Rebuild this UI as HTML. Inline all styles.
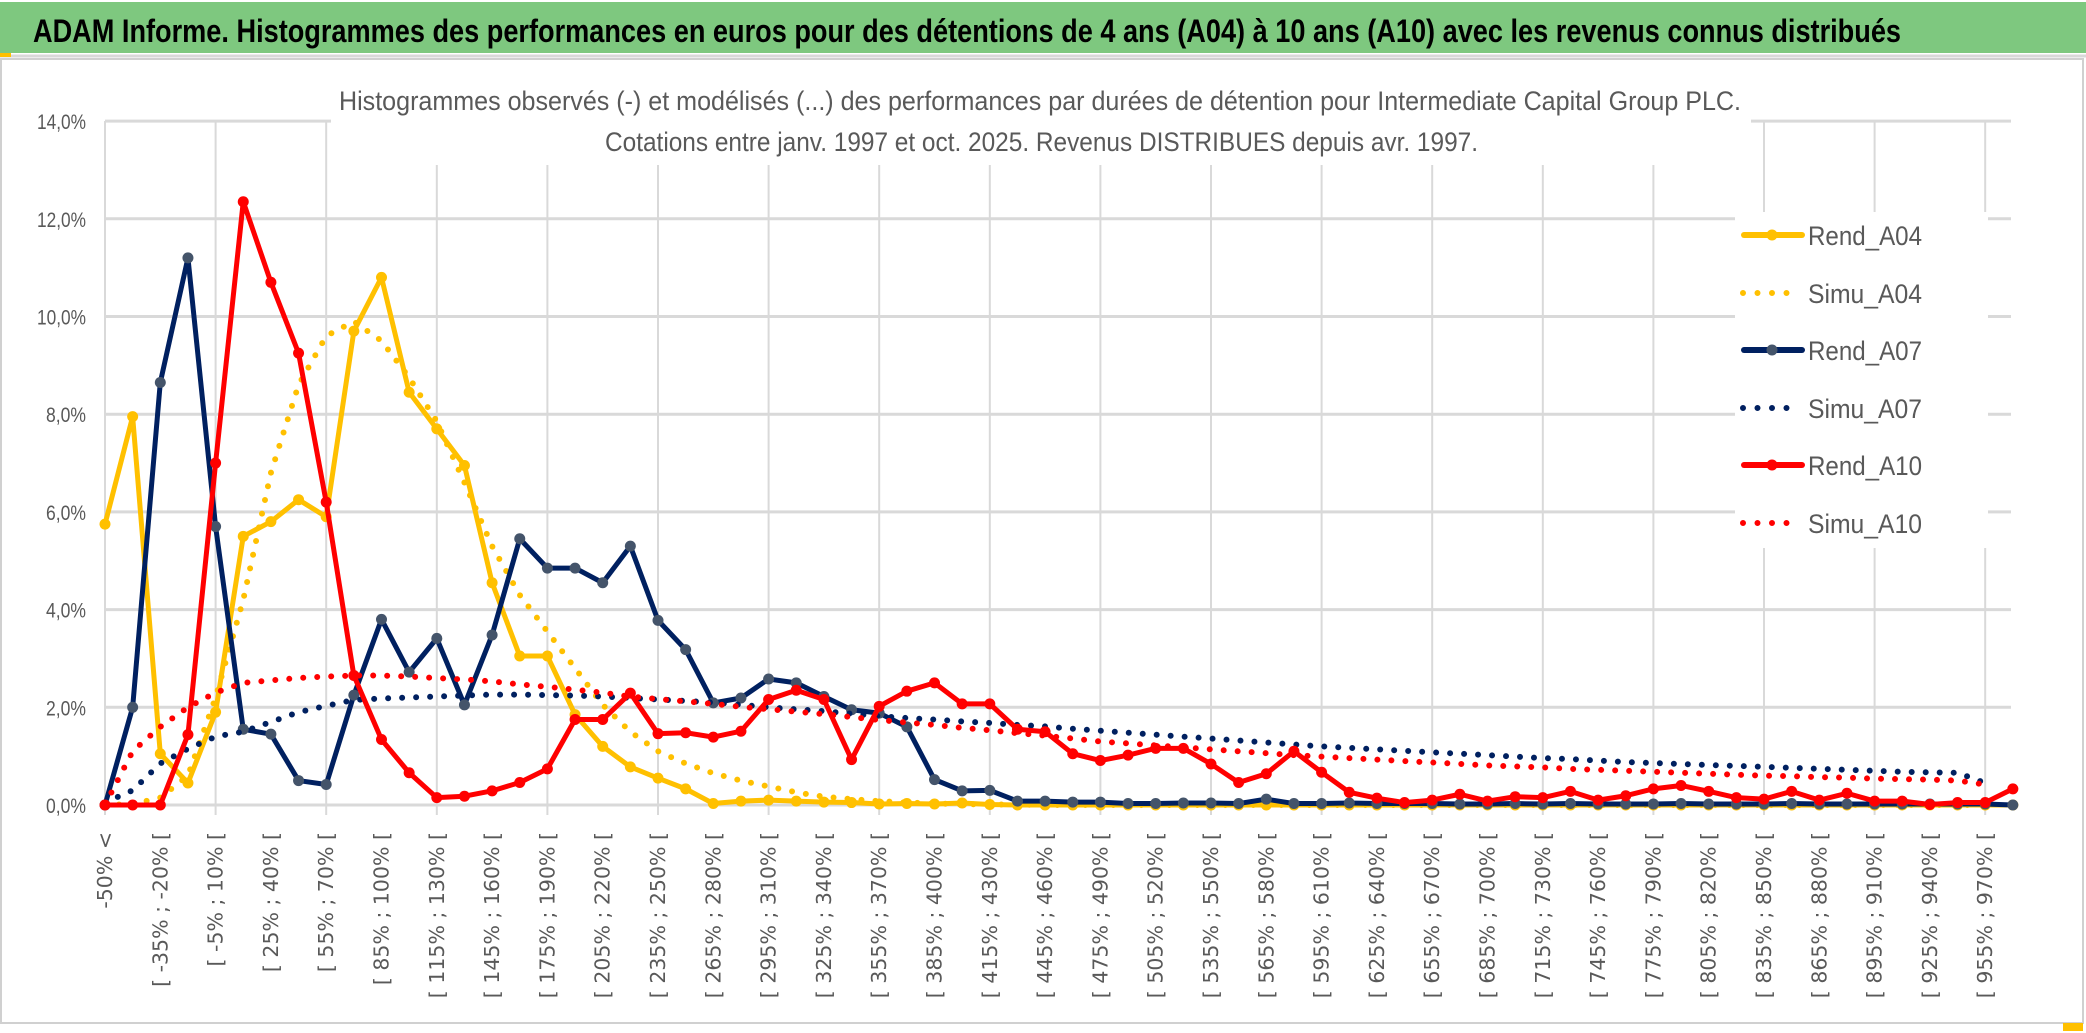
<!DOCTYPE html>
<html><head><meta charset="utf-8"><style>
html,body{margin:0;padding:0;background:#fff;}
svg{display:block;font-family:"Liberation Sans",sans-serif;}
</style></head><body>
<svg id="chart" width="2086" height="1033" viewBox="0 0 2086 1033" xmlns="http://www.w3.org/2000/svg">
<rect x="0" y="0" width="2086" height="1033" fill="#fff"/>
<rect x="1" y="59" width="2082" height="964" fill="#fff" stroke="#d0d0d0" stroke-width="2"/>
<rect x="0" y="2" width="2086" height="51" fill="#7ec87f"/>
<line x1="0" y1="56" x2="2086" y2="56" stroke="#d8d8d8" stroke-width="3"/>
<rect x="0" y="53" width="11" height="4" fill="#ffc000"/>
<rect x="2063" y="1023" width="20" height="8" fill="#ffc000"/>
<text x="33" y="42" font-size="32" font-weight="bold" fill="#000" textLength="1868" lengthAdjust="spacingAndGlyphs">ADAM Informe. Histogrammes des performances en euros pour des détentions de 4 ans (A04) à 10 ans (A10) avec les revenus connus distribués</text>
<g id="grid"></g>
<rect x="331" y="66" width="1420" height="99" fill="#fff"/>
<text x="339" y="110" font-size="27" fill="#595959" textLength="1402" lengthAdjust="spacingAndGlyphs">Histogrammes observés (-) et modélisés (...) des performances par durées de détention pour Intermediate Capital Group PLC.</text>
<text x="605" y="151" font-size="27" fill="#595959" textLength="873" lengthAdjust="spacingAndGlyphs">Cotations entre janv. 1997 et oct. 2025. Revenus DISTRIBUES depuis avr. 1997.</text>
<g id="yaxis"></g>
<g id="xaxis"></g>
<g id="series"></g>
<g id="legend"></g>
</svg>
<script>
const categories = ["-50% <"];
const labelStarts = [-50,-35,-20,-5,10,25,40,55,70,85,100,115,130,145,160,175,190,205,220,235,250,265,280,295,310,325,340,355,370,385,400,415,430,445,460,475,490,505,520,535,550,565,580,595,610,625,640,655,670,685,700,715,730,745,760,775,790,805,820,835,850,865,880,895,910,925,940,955,970];
const yTicks = [0,2,4,6,8,10,12,14];
const yTickLabels = ["0,0%","2,0%","4,0%","6,0%","8,0%","10,0%","12,0%","14,0%"];
const rendA04 = [5.75,7.95,1.05,0.45,1.9,5.5,5.8,6.25,5.9,9.7,10.8,8.45,7.7,6.95,4.55,3.05,3.05,1.85,1.2,0.78,0.55,0.33,0.03,0.08,0.1,0.08,0.06,0.05,0.02,0.03,0.02,0.04,0.01,0,0,0,0,0,0,0,0,0,0,0,0,0,0,0,0,0,0,0,0,0,0,0,0,0,0,0,0,0,0,0,0,0,0,0,0,0];
const simuA04 = [0,0.02,0.15,0.6,2.2,4.2,6.8,8.6,9.6,9.9,9.5,8.75,7.85,6.6,5.3,4.3,3.55,2.8,2.05,1.5,1.1,0.85,0.65,0.5,0.38,0.26,0.17,0.12,0.08,0.05,0.03,0.02,0.01,0.01,0,0,0,0,0,0,0,0,0,0,0,0,0,0,0,0,0,0,0,0,0,0,0,0,0,0,0,0,0,0,0,0,0,0,0];
const rendA07 = [0,2.0,8.65,11.2,5.7,1.55,1.45,0.5,0.42,2.25,3.8,2.72,3.41,2.05,3.48,5.45,4.85,4.85,4.55,5.3,3.78,3.18,2.09,2.19,2.58,2.5,2.22,1.95,1.88,1.6,0.52,0.29,0.3,0.08,0.08,0.06,0.06,0.03,0.03,0.04,0.04,0.03,0.12,0.03,0.03,0.04,0.03,0.03,0.03,0.02,0.02,0.03,0.02,0.03,0.02,0.02,0.02,0.03,0.02,0.02,0.02,0.03,0.02,0.02,0.02,0.02,0.02,0.02,0.02,0.0];
const simuA07 = [0.05,0.3,0.85,1.15,1.4,1.5,1.7,1.9,2.03,2.15,2.18,2.2,2.22,2.24,2.26,2.26,2.25,2.24,2.22,2.19,2.16,2.13,2.1,2.05,2.0,1.96,1.92,1.87,1.82,1.78,1.75,1.71,1.68,1.64,1.61,1.56,1.52,1.48,1.44,1.4,1.36,1.32,1.28,1.24,1.2,1.17,1.14,1.11,1.08,1.05,1.02,0.99,0.96,0.94,0.91,0.88,0.86,0.84,0.82,0.8,0.78,0.76,0.74,0.72,0.7,0.68,0.67,0.66,0.45];
const rendA10 = [0,0,0,1.44,7.0,12.35,10.7,9.25,6.2,2.65,1.34,0.66,0.15,0.18,0.29,0.46,0.74,1.75,1.75,2.29,1.46,1.48,1.39,1.51,2.16,2.35,2.16,0.93,2.02,2.33,2.5,2.07,2.07,1.55,1.5,1.05,0.91,1.02,1.16,1.16,0.84,0.46,0.64,1.1,0.67,0.26,0.14,0.05,0.1,0.22,0.08,0.17,0.15,0.28,0.1,0.19,0.33,0.4,0.28,0.15,0.12,0.28,0.1,0.24,0.08,0.08,0.01,0.05,0.05,0.33];
const simuA10 = [0,1.1,1.6,2.0,2.3,2.5,2.55,2.6,2.63,2.65,2.65,2.63,2.6,2.57,2.53,2.47,2.42,2.36,2.3,2.22,2.17,2.12,2.07,2.01,1.96,1.91,1.86,1.8,1.74,1.69,1.64,1.58,1.53,1.47,1.42,1.36,1.3,1.26,1.22,1.18,1.14,1.1,1.06,1.02,0.99,0.96,0.93,0.9,0.87,0.84,0.81,0.79,0.77,0.74,0.72,0.7,0.68,0.66,0.64,0.62,0.6,0.59,0.57,0.56,0.54,0.53,0.52,0.5,0.42];
const seriesNames = ["Rend_A04","Simu_A04","Rend_A07","Simu_A07","Rend_A10","Simu_A10"];

for (let k = 1; k < labelStarts.length; k++) categories.push("[ " + labelStarts[k-1] + "% ; " + labelStarts[k] + "% [");

const NS = "http://www.w3.org/2000/svg";
const X0 = 105, STEP = 27.65, Y0 = 805, PXPER = 48.85, XR = 2011;
const xs = i => X0 + i * STEP;
const ys = v => Y0 - v * PXPER;
function mk(tag, attrs, parent) { const e = document.createElementNS(NS, tag); for (const k in attrs) e.setAttribute(k, attrs[k]); parent.appendChild(e); return e; }

const grid = document.getElementById('grid');
for (let k = 0; k < 18; k++) {
  const gx = X0 + k * 110.6;
  const l = mk('line', {x1: gx, y1: 121, x2: gx, y2: Y0 + 10, stroke: '#d9d9d9', 'stroke-width': 2}, grid);
  
  
}
const yax = document.getElementById('yaxis');
yTicks.forEach((t, i) => {
  const l = mk('line', {x1: X0, y1: ys(t), x2: XR, y2: ys(t), stroke: '#d9d9d9', 'stroke-width': 3}, grid);
  
  
  const w = yTickLabels[i].length > 4 ? 49 : 40;
  const tx = mk('text', {x: 86, y: ys(t) + 8, 'font-size': 21, fill: '#595959', 'text-anchor': 'end', textLength: w, lengthAdjust: 'spacingAndGlyphs'}, yax);
  tx.textContent = yTickLabels[i];
  
  
});
const xax = document.getElementById('xaxis');
categories.forEach((c, i) => {
  if (i % 2) return;
  const x = xs(i) + 7;
  const t = mk('text', {x: 0, y: 0, transform: `translate(${x},832) rotate(-90)`, 'font-size': 20.5, fill: '#595959', 'text-anchor': 'end', 'font-family': '"DejaVu Sans",sans-serif'}, xax);
  t.textContent = c;
  
  
});

const ser = document.getElementById('series');
function drawLine(data, color, marker, dotted, name) {
  const g = mk('g', {}, ser);
  
  
  const pts = data.map((v, i) => xs(i) + ',' + ys(v)).join(' ');
  const attrs = {points: pts, fill: 'none', stroke: color, 'stroke-linejoin': 'round', 'stroke-linecap': 'round'};
  if (dotted) { attrs['stroke-width'] = 6; attrs['stroke-dasharray'] = '0 14'; } else { attrs['stroke-width'] = 5; }
  const p = mk('polyline', attrs, g);
  
  
  if (marker) data.forEach((v, i) => {
    const c = mk('circle', {cx: xs(i), cy: ys(v), r: 5.5, fill: marker}, g);
    
    
  });
}
drawLine(rendA04, '#ffc000', '#ffc000', false, 'rend-a04-series');
drawLine(simuA04, '#ffc000', null, true, 'simu-a04-series');
drawLine(rendA07, '#002060', '#44546a', false, 'rend-a07-series');
drawLine(simuA07, '#002060', null, true, 'simu-a07-series');
drawLine(rendA10, '#ff0000', '#ff0000', false, 'rend-a10-series');
drawLine(simuA10, '#ff0000', null, true, 'simu-a10-series');

const leg = document.getElementById('legend');
mk('rect', {x: 1735, y: 212, width: 253, height: 336, fill: '#fff'}, leg);
const legColors = ['#ffc000','#ffc000','#002060','#002060','#ff0000','#ff0000'];
const legMarkers = ['#ffc000', null, '#44546a', null, '#ff0000', null];
const legY = [235, 293, 350, 408, 465, 523];
seriesNames.forEach((n, i) => {
  const g = mk('g', {}, leg);
  
  
  const y = legY[i];
  if (legMarkers[i]) {
    mk('line', {x1: 1744, y1: y, x2: 1802, y2: y, stroke: legColors[i], 'stroke-width': 6, 'stroke-linecap': 'round'}, g);
    mk('circle', {cx: 1772, cy: y, r: 5.5, fill: legMarkers[i]}, g);
  } else {
    mk('line', {x1: 1743, y1: y, x2: i === 5 ? 1800 : 1790, y2: y, stroke: legColors[i], 'stroke-width': 6, 'stroke-linecap': 'round', 'stroke-dasharray': '0 14.5'}, g);
  }
  const t = mk('text', {x: 1808, y: y + 10, 'font-size': 27, fill: '#595959', textLength: 114, lengthAdjust: 'spacingAndGlyphs'}, g);
  t.textContent = n;
  
  
});
</script>
</body></html>
